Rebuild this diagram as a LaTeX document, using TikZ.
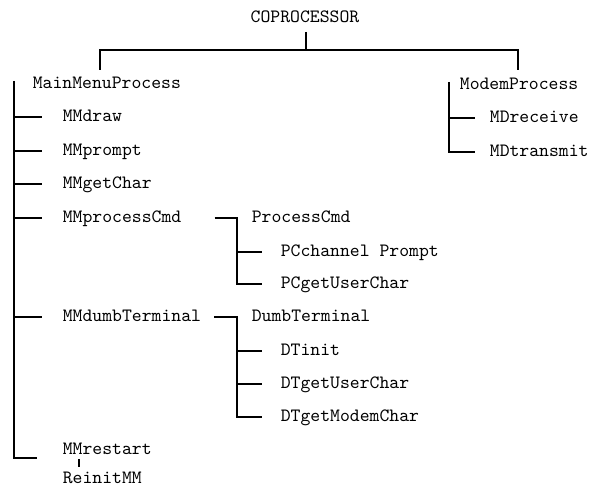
\documentclass[tikz,border=0pt]{standalone}
\usepackage{fontspec}
\begin{document}
\begin{tikzpicture}[x=0.02cm,y=-0.02cm,line width=1pt,
  txt/.style={anchor=west,inner sep=0pt,text height=7pt,text depth=2pt,
    font=\ttfamily\addfontfeatures{FakeBold=2.5}\fontsize{10.7}{12}\selectfont}]
\useasboundingbox (0,0) rectangle (589,489);
\node[txt,anchor=center](cop) at (305,18) {COPROCESSOR};
\node[txt](mmp) at (32,84) {MainMenuProcess};
\node[txt](mdp) at (459,85) {ModemProcess};
\node[txt](mmdraw) at (62,117) {MMdraw};
\node[txt](mmprompt) at (62,151) {MMprompt};
\node[txt](mmgetchar) at (62,184) {MMgetChar};
\node[txt](mmproc) at (62,218) {MMprocessCmd};
\node[txt](mmdumb) at (62,317) {MMdumbTerminal};
\node[txt](mmrestart) at (62,450) {MMrestart};
\node[txt](reinit) at (62,479) {ReinitMM};
\node[txt](mdrec) at (489,118) {MDreceive};
\node[txt](mdtrans) at (489,152) {MDtransmit};
\node[txt](pc) at (251,218) {ProcessCmd};
\node[txt](pcprompt) at (280,252) {PCchannel Prompt};
\node[txt](pcuser) at (280,284) {PCgetUserChar};
\node[txt](dt) at (251,317) {DumbTerminal};
\node[txt](dtinit) at (280,351) {DTinit};
\node[txt](dtuser) at (280,384) {DTgetUserChar};
\node[txt](dtmodem) at (280,417) {DTgetModemChar};
\coordinate (mmspine) at (14,81);
\coordinate (mdspine) at (449,82);
\coordinate (pcspine) at (237,218);
\coordinate (dtspine) at (237,317);
\draw (306,32)--(306,50);
\draw (100,70)--(100,50)--(518,50)--(518,70);
\draw (mmspine)--(14,458)--++(23,0);
\foreach \n in {mmdraw,mmprompt,mmgetchar,mmproc,mmdumb}
  \draw (mmspine|-\n.west)--++(28,0);
\draw (mdspine)|-([xshift=-0.28cm]mdtrans.west);
\draw (mdspine|-mdrec.west)--++(26,0);
\draw ([xshift=0.65cm]mmproc.east)-|(pcspine)|-([xshift=-0.37cm]pcuser.west);
\draw (pcspine|-pcprompt.west)--++(25,0);
\draw ([xshift=0.25cm]mmdumb.east)-|(dtspine)|-([xshift=-0.37cm]dtmodem.west);
\foreach \n in {dtinit,dtuser}
  \draw (dtspine|-\n.west)--++(25,0);
\draw (79,459)--(79,467);
\end{tikzpicture}
\end{document}
